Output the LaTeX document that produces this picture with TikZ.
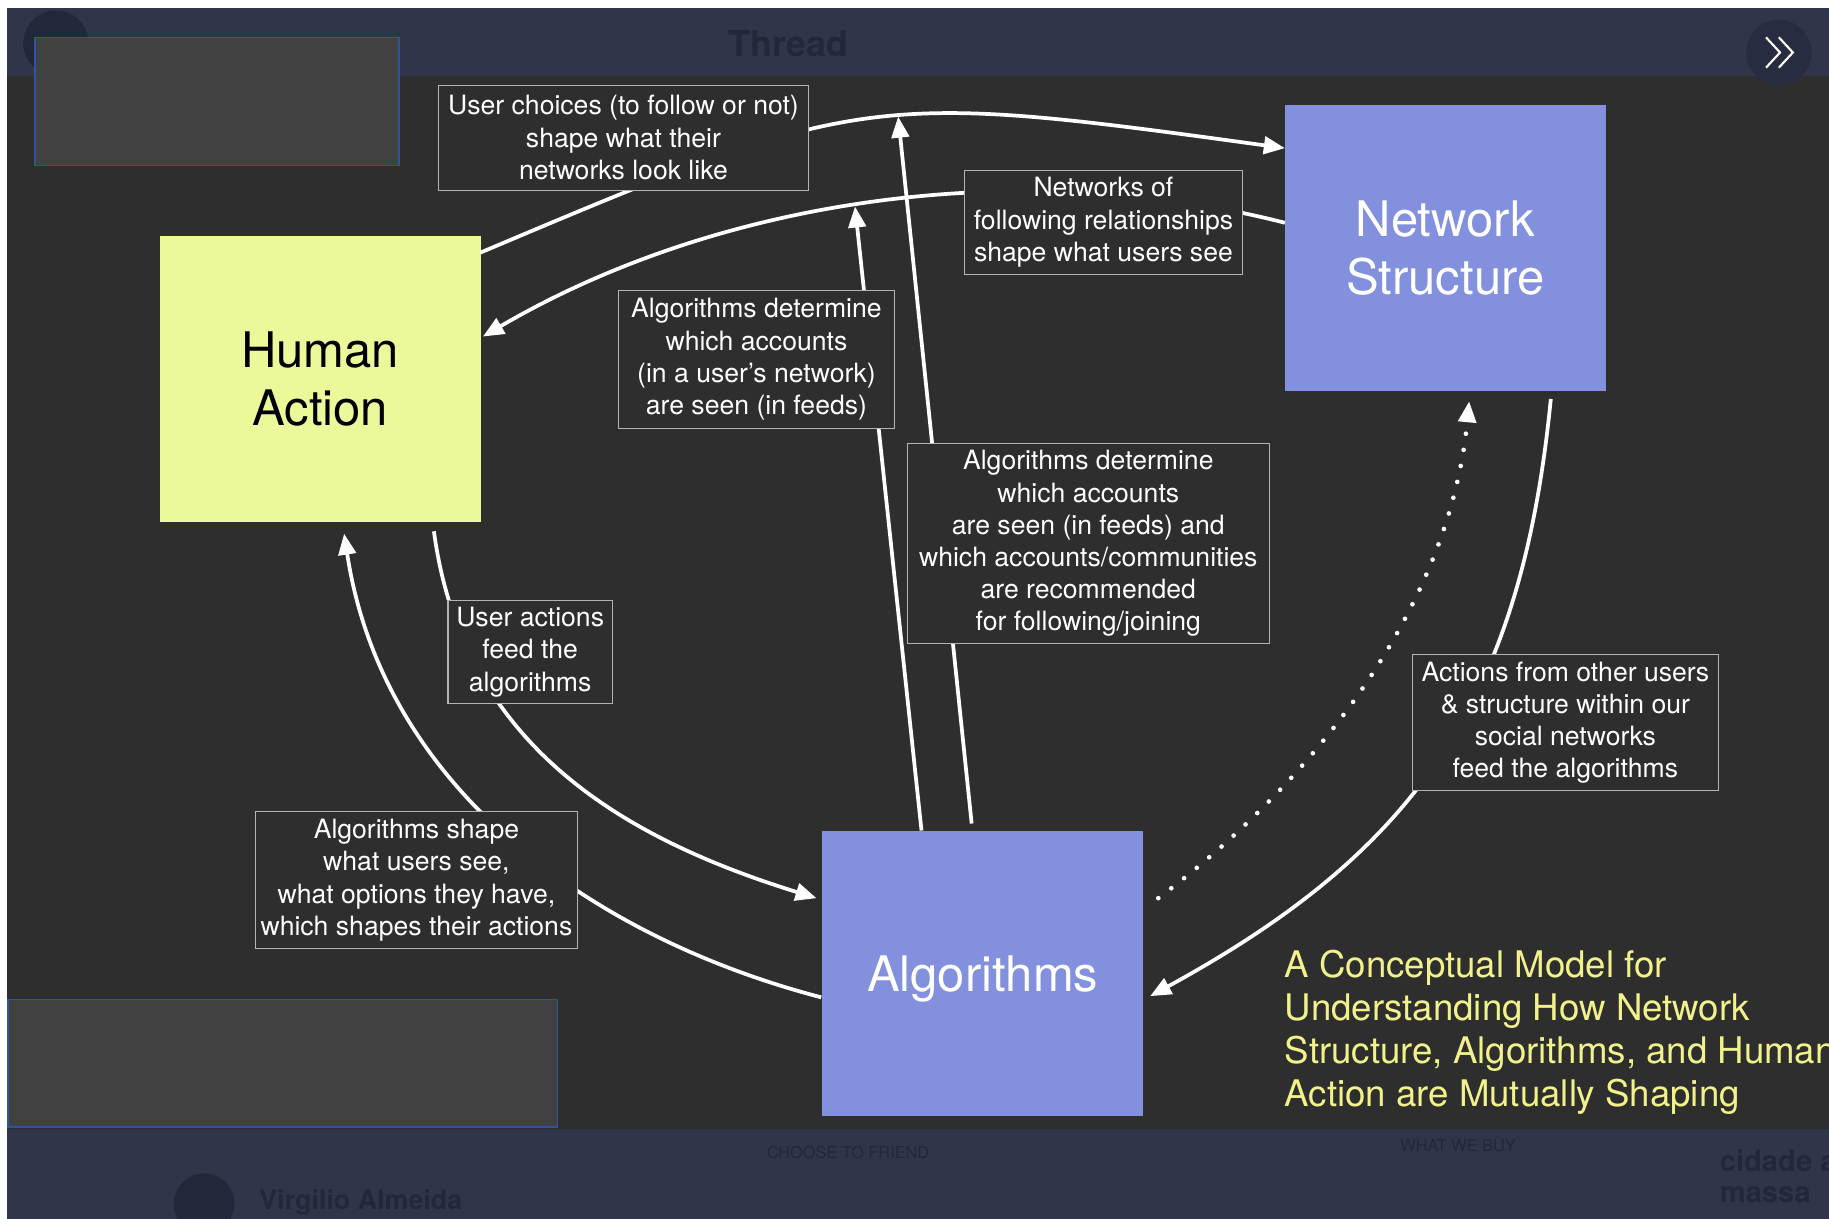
\documentclass[tikz,border=0pt]{standalone}
\usepackage{fontspec}
\setmainfont{TeX Gyre Heros}
\usepackage{tikz}
\usetikzlibrary{arrows.meta}
\definecolor{bgdark}{HTML}{2E2E2E}
\definecolor{barnavy}{HTML}{30354A}
\definecolor{barfaint}{HTML}{23273A}
\definecolor{circlenavy}{HTML}{282C40}
\definecolor{actionyellow}{HTML}{EDF89A}
\definecolor{netblue}{HTML}{8290DD}
\definecolor{noteedge}{HTML}{B4B4B4}
\definecolor{titleyellow}{HTML}{F2F28C}
\definecolor{redactgray}{HTML}{414141}
\definecolor{redactblue}{HTML}{2C55A0}
\newcommand*\blockw{137.5pt}
\newcommand*\blockh{122.5pt}
\newcommand*\blockfont{\fontsize{21}{25}\selectfont}
\newcommand*\notefont{\fontsize{11.4}{13.8}\selectfont}
\newcommand*\titlefont{\fontsize{15.7}{18.4}\selectfont}
\tikzset{
    block/.style      = {minimum width=\blockw, minimum height=\blockh,
                        inner sep=0pt, outer sep=0pt, align=center, font=\blockfont},
    humanblock/.style = {block, fill=actionyellow, text=black},
    netblock/.style   = {block, fill=netblue, text=white},
    note/.style 2 args = {draw=noteedge, line width=0.5pt, fill=bgdark, text=white,
                        align=center, font=\notefont, inner sep=0pt,
                        minimum width=#1, minimum height=#2},
    flow/.style       = {draw=white, line width=1.6pt,
                        -{Triangle[length=9pt,width=7.5pt]}},
    dotflow/.style    = {flow, line width=2pt, dash pattern=on 0pt off 7pt, line cap=round},
    redact/.style     = {draw=redactblue, line width=0.6pt, fill=redactgray},
    faint/.style      = {text=barfaint, inner sep=0pt},
  }

\begin{document}
\begin{tikzpicture}[x=0.5pt, y=-0.5pt]
    % screenshot frame: white edge, top bar, dark slide, bottom bar
    \clip (0,0) rectangle (1568,1045);
    \fill[white] (0,0) rectangle (1568,1045);
    \fill[barnavy] (6,7) rectangle (1568,65);
    \fill[bgdark] (6,65) rectangle (1568,968);
    \fill[barnavy] (6,968) rectangle (1568,1045);

    % faint things of the page behind the slide
    \fill[barfaint] (48,37) circle (14pt);
    \node[faint, font=\bfseries\fontsize{15.3}{18}\selectfont] (thread) at (676,37) {Thread};
    \fill[circlenavy] (1525,45) circle (14pt);
    \draw[white, line width=0.9pt] (1514,32) -- (1526,45) -- (1514,58)
                                   (1525,32) -- (1537,45) -- (1525,58);
    \fill[barfaint] (175,1032) circle (13pt);
    \node[faint, anchor=base west, font=\bfseries\fontsize{11.5}{13}\selectfont] (author) at (222,1037) {Virgilio Almeida};
    \node[faint, font=\fontsize{7}{8}\selectfont] (friend) at (727,988) {CHOOSE TO FRIEND};
    \node[faint, font=\fontsize{7}{8}\selectfont] (buy) at (1250,982) {WHAT WE BUY};
    \node[faint, anchor=base west, align=left, font=\bfseries\fontsize{12.5}{13.5}\selectfont] (city) at (1474,1031) {cidade a\\massa};

    % hidden parts of the screenshot
    \foreach \xa/\ya/\xb/\yb in {30/32/342/142, 7/857/478/966} {
        \draw[redact] (\xa,\ya) rectangle (\xb,\yb);
    }

    % the three blocks
    \node[humanblock] (human) at (274.5,325)  {Human\\Action};
    \node[netblock]   (net)   at (1239,212.5) {Network\\Structure};
    \node[netblock, text depth=0pt] (algo) at (842.5,834.5) {Algorithms};

    % points where the straight arrows meet the upper arcs
    \coordinate (tipA) at (770,100);
    \coordinate (tipB) at (733,177);

    % upper arcs
    \draw[flow] ([yshift=-7pt]human.north east)
        .. controls (737,79) and (746,78) .. ([yshift=-18.5pt]net.north west);
    \draw[flow] ([yshift=-50.5pt]net.north west)
        .. controls (880,134) and (620,168) .. ([xshift=1pt,yshift=-43pt]human.north east);

    % straight arrows out of the algorithms
    \draw[flow] ([xshift=42.5pt]algo.north west) -- (tipB);
    \draw[flow] ([xshift=64pt,yshift=3pt]algo.north west) -- (tipA);

    % left arcs
    \draw[flow] ([xshift=117.5pt,yshift=-4pt]human.south west)
        .. controls (397,642) and (539,720) .. ([xshift=-2.5pt,yshift=-29pt]algo.north west);
    \draw[flow] ([xshift=-0.5pt,yshift=-71.5pt]algo.north west)
        .. controls (505,803) and (328,674) .. ([xshift=79pt,yshift=-5pt]human.south west);

    % right arcs
    \draw[flow] ([xshift=114pt,yshift=-3.5pt]net.south west)
        .. controls (1304,602) and (1213,730) .. ([xshift=3pt,yshift=-71pt]algo.north east);
    \draw[dotflow] ([xshift=6.5pt,yshift=-29pt]algo.north east)
        .. controls (1129,668) and (1243,518) .. ([xshift=79pt,yshift=-4.5pt]net.south west);

    % notes on the arrows
    \node[note={158.5pt}{45pt}] (choice) at (534.5,118)
        {User choices (to follow or not)\\shape what their\\networks look like};
    \node[note={119pt}{44.5pt}] (follow) at (946,190.5)
        {Networks of\\following relationships\\shape what users see};
    \node[note={118.5pt}{59pt}] (seenA) at (648.5,308)
        {Algorithms determine\\which accounts\\(in a user’s network)\\are seen (in feeds)};
    \node[note={155pt}{86pt}] (seenB) at (933,466)
        {Algorithms determine\\which accounts\\are seen (in feeds) and\\which accounts/communities\\are recommended\\for following/joining};
    \node[note={70.5pt}{44pt}] (feedA) at (454.5,559)
        {User actions\\feed the\\algorithms};
    \node[note={138pt}{58.5pt}] (shape) at (357,754.5)
        {Algorithms shape\\what users see,\\what options they have,\\which shapes their actions};
    \node[note={131pt}{58.5pt}] (feedB) at (1342,619.5)
        {Actions from other users\\\& structure within our\\social networks\\feed the algorithms};

    % title
    \node[anchor=north west, align=left, inner sep=0pt, text=titleyellow, font=\titlefont] (title) at (1101,814)
        {A Conceptual Model for\\Understanding How Network\\Structure, Algorithms, and Human\\Action are Mutually Shaping};
\end{tikzpicture}
\end{document}
